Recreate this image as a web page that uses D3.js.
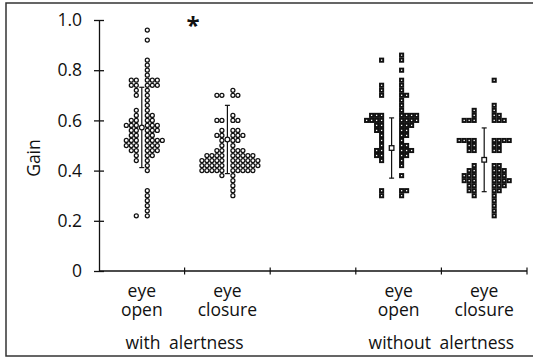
<!DOCTYPE html>
<html>
<head>
<meta charset="utf-8">
<script src="https://cdn.jsdelivr.net/npm/d3@7"></script>
<style>
    body { margin: 0; background: #fff; }
    svg { display: block; font-family: "Open Sans", sans-serif; }
</style>
</head>
<body>
<div id="chart"></div>
<script>
// --- 1. Data ---
const categories = ["eye open", "eye closure", "", "eye open", "eye closure"];
const conditions = ["with alertness", "without alertness"];
const yTicks = [0, 0.2, 0.4, 0.6, 0.8, 1.0];

// individual gains, one entry per subject
const withOpen = [
    0.96, 0.92, 0.84, 0.82, 0.80, 0.78,
    0.76, 0.76, 0.76, 0.76, 0.76, 0.74, 0.74, 0.74, 0.74, 0.74,
    0.72, 0.72, 0.70, 0.70, 0.68, 0.66, 0.64, 0.64, 0.62, 0.62, 0.62,
    0.60, 0.60, 0.60, 0.60, 0.58, 0.58, 0.58, 0.58, 0.58, 0.58,
    0.56, 0.56, 0.56, 0.56, 0.56, 0.54, 0.54, 0.54, 0.54,
    0.52, 0.52, 0.52, 0.52, 0.52, 0.52, 0.52, 0.50, 0.50, 0.50, 0.50, 0.50, 0.50,
    0.48, 0.48, 0.48, 0.48, 0.48, 0.46, 0.46, 0.46, 0.44, 0.44, 0.42, 0.40,
    0.32, 0.30, 0.28, 0.26, 0.24, 0.22, 0.22
];
const withClosure = [
    0.72, 0.70, 0.70, 0.70, 0.70, 0.62, 0.60, 0.60, 0.60, 0.60,
    0.56, 0.56, 0.56, 0.54, 0.54, 0.54, 0.54, 0.54, 0.52, 0.52, 0.52, 0.50, 0.50,
    0.48, 0.48, 0.48, 0.48, 0.48,
    0.46, 0.46, 0.46, 0.46, 0.46, 0.46, 0.46, 0.46, 0.46,
    0.44, 0.44, 0.44, 0.44, 0.44, 0.44, 0.44, 0.44, 0.44, 0.44, 0.44,
    0.42, 0.42, 0.42, 0.42, 0.42, 0.42, 0.42, 0.42, 0.42, 0.42, 0.42,
    0.40, 0.40, 0.40, 0.40, 0.40, 0.40, 0.40, 0.40, 0.40, 0.40,
    0.38, 0.38, 0.36, 0.34, 0.32, 0.30
];
const withoutOpen = [
    0.86, 0.84, 0.84, 0.80, 0.76, 0.74, 0.74, 0.72, 0.72, 0.70, 0.70, 0.70,
    0.68, 0.66, 0.64, 0.62, 0.62, 0.62, 0.62, 0.62, 0.62, 0.62,
    0.60, 0.60, 0.60, 0.60, 0.60, 0.60, 0.60, 0.60,
    0.58, 0.58, 0.58, 0.58, 0.58, 0.56, 0.56, 0.56, 0.56, 0.54, 0.54, 0.54, 0.52, 0.52,
    0.50, 0.50, 0.50, 0.48, 0.48, 0.48, 0.48, 0.48, 0.46, 0.46, 0.46, 0.46, 0.44, 0.44, 0.42,
    0.38, 0.32, 0.32, 0.32, 0.30, 0.30
];
const withoutClosure = [
    0.76, 0.66, 0.64, 0.64, 0.62, 0.62, 0.62, 0.60, 0.60, 0.60, 0.60, 0.60, 0.60,
    0.52, 0.52, 0.52, 0.52, 0.52, 0.52, 0.52, 0.52, 0.50, 0.50, 0.50, 0.50, 0.48, 0.48, 0.48, 0.48,
    0.42, 0.42, 0.42, 0.40, 0.40, 0.40, 0.40, 0.40, 0.38, 0.38, 0.38, 0.38, 0.38, 0.38,
    0.36, 0.36, 0.36, 0.36, 0.36, 0.36, 0.36, 0.34, 0.34, 0.34, 0.34, 0.34,
    0.32, 0.32, 0.32, 0.32, 0.30, 0.30, 0.28, 0.26, 0.24, 0.22
];

// mean and standard deviation drawn next to each group
const groupMeans = [0.572, 0.524, 0.49, 0.443];
const groupSDs = [0.16, 0.136, 0.12, 0.127];

// --- 2. Setup ---
const width = 533;
const height = 359;
const ink = "#111";

const svg = d3.select("#chart").append("svg")
    .attr("width", width)
    .attr("height", height);

const y = d3.scaleLinear().domain([0, 1]).range([271, 20]);
const x = d3.scaleBand().domain(d3.range(categories.length)).range([99, 527]);

// which band each group sits in, and its marker shape
const groups = [
    { values: withOpen, band: 0, shape: "circle", nudge: 0 },
    { values: withClosure, band: 1, shape: "circle", nudge: 0 },
    { values: withoutOpen, band: 3, shape: "square", nudge: -7 },
    { values: withoutClosure, band: 4, shape: "square", nudge: 0 }
];

// frame around the whole figure (right edge is cut off in the scan)
svg.append("rect")
    .attr("x", 6).attr("y", 3)
    .attr("width", 545).attr("height", 353)
    .attr("fill", "none")
    .attr("stroke", "#333")
    .attr("stroke-width", 1.5);

// --- 3. Axes ---
const yAxis = svg.append("g")
    .attr("transform", `translate(${x.range()[0]},0)`)
    .call(d3.axisLeft(y)
        .tickValues(yTicks)
        .tickFormat(d => d === 0 ? "0" : d3.format(".1f")(d))
        .tickSize(5)
        .tickSizeOuter(0)
        .tickPadding(12));

yAxis.select(".domain").attr("stroke", ink).attr("stroke-width", 1.3);
yAxis.selectAll(".tick line").attr("x1", 5).attr("stroke", ink).attr("stroke-width", 1.3);
yAxis.selectAll(".tick text")
    .attr("fill", ink)
    .style("font-size", "17.5px")
    .style("font-family", "\"Open Sans\", sans-serif");

svg.append("text")
    .attr("transform", `translate(40,${y(0.45)}) rotate(-90)`)
    .attr("text-anchor", "middle")
    .attr("fill", ink)
    .style("font-size", "17.5px")
    .text("Gain");

const xAxis = svg.append("g").attr("class", "x-axis");
xAxis.append("line")
    .attr("x1", x.range()[0]).attr("x2", x.range()[1])
    .attr("y1", y(0)).attr("y2", y(0))
    .attr("stroke", ink).attr("stroke-width", 1.3);

const boundaries = x.domain().slice(1).map(i => x(i)).concat([x.range()[1]]);
xAxis.selectAll(".x-tick")
    .data(boundaries)
    .enter()
    .append("line")
    .attr("class", "x-tick")
    .attr("x1", d => d).attr("x2", d => d)
    .attr("y1", y(0) - 3.5).attr("y2", y(0) + 3.5)
    .attr("stroke", ink).attr("stroke-width", 1.2);

// category labels, one word per line
const catWords = [];
categories.forEach((c, i) => {
    if (!c) return;
    c.split(" ").forEach((w, j) => {
        catWords.push({ w: w, line: j, cx: x(i) + x.bandwidth() / 2 });
    });
});

xAxis.selectAll(".cat-label")
    .data(catWords)
    .enter()
    .append("text")
    .attr("class", "cat-label")
    .attr("x", d => d.cx)
    .attr("y", d => 297 + d.line * 19)
    .attr("text-anchor", "middle")
    .attr("fill", ink)
    .style("font-size", "17.5px")
    .text(d => d.w);

// condition labels under each pair
xAxis.selectAll(".cond-label")
    .data(conditions)
    .enter()
    .append("text")
    .attr("class", "cond-label")
    .attr("x", (d, i) => x(i === 0 ? 1 : 4))
    .attr("y", 349)
    .attr("text-anchor", "middle")
    .attr("word-spacing", "4px")
    .attr("fill", ink)
    .style("font-size", "17.5px")
    .text(d => d);

// significance marker
svg.append("text")
    .attr("x", 193).attr("y", 34)
    .attr("text-anchor", "middle")
    .attr("fill", ink)
    .style("font-size", "24px")
    .style("font-weight", "bold")
    .text("*");

// --- 4. Dot columns ---
const binStep = 0.02;   // one row of markers
const step = 5;         // horizontal marker pitch, px

function stackDots(values, barX, gap) {
    const rows = d3.group(values, v => Math.round(v / binStep));
    const pts = [];
    rows.forEach((vs, k) => {
        vs.forEach((v, i) => {
            let cx;
            if (i % 2 === 0) {
                cx = barX + gap + (i / 2) * step;           // centre column and right side
            } else {
                cx = barX - gap - ((i - 1) / 2) * step;     // left side
            }
            pts.push({ cx: cx, cy: y(k * binStep) });
        });
    });
    return pts;
}

groups.forEach((grp, gi) => {
    const barX = x(grp.band) + x.bandwidth() / 2 + grp.nudge;
    const gap = grp.shape === "circle" ? 5.5 : 10;
    const pts = stackDots(grp.values, barX, gap);
    const layer = svg.append("g").attr("class", "group-" + gi);

    if (grp.shape === "circle") {
        layer.selectAll("circle.dot")
            .data(pts)
            .enter()
            .append("circle")
            .attr("class", "dot")
            .attr("cx", d => d.cx)
            .attr("cy", d => d.cy)
            .attr("r", 2.0)
            .attr("fill", "#fff")
            .attr("stroke", ink)
            .attr("stroke-width", 1.25);
    } else {
        layer.selectAll("rect.dot")
            .data(pts)
            .enter()
            .append("rect")
            .attr("class", "dot")
            .attr("x", d => d.cx - 1.6)
            .attr("y", d => d.cy - 1.6)
            .attr("width", 3.2)
            .attr("height", 3.2)
            .attr("fill", "#fff")
            .attr("stroke", ink)
            .attr("stroke-width", 1.9);
    }

    // mean +- SD bar
    const m = groupMeans[gi];
    const sd = groupSDs[gi];
    const bar = layer.append("g").attr("class", "sd-bar");
    bar.append("line")
        .attr("x1", barX).attr("x2", barX)
        .attr("y1", y(m - sd)).attr("y2", y(m + sd))
        .attr("stroke", ink).attr("stroke-width", 1.2);
    [m - sd, m + sd].forEach(v => {
        bar.append("line")
            .attr("x1", barX - 2.5).attr("x2", barX + 2.5)
            .attr("y1", y(v)).attr("y2", y(v))
            .attr("stroke", ink).attr("stroke-width", 1.2);
    });
    if (grp.shape === "circle") {
        bar.append("circle")
            .attr("cx", barX).attr("cy", y(m)).attr("r", 2.4)
            .attr("fill", "#fff").attr("stroke", ink).attr("stroke-width", 1.2);
    } else {
        bar.append("rect")
            .attr("x", barX - 2.3).attr("y", y(m) - 2.3)
            .attr("width", 4.6).attr("height", 4.6)
            .attr("fill", "#fff").attr("stroke", ink).attr("stroke-width", 1.3);
    }
});
</script>
</body>
</html>
